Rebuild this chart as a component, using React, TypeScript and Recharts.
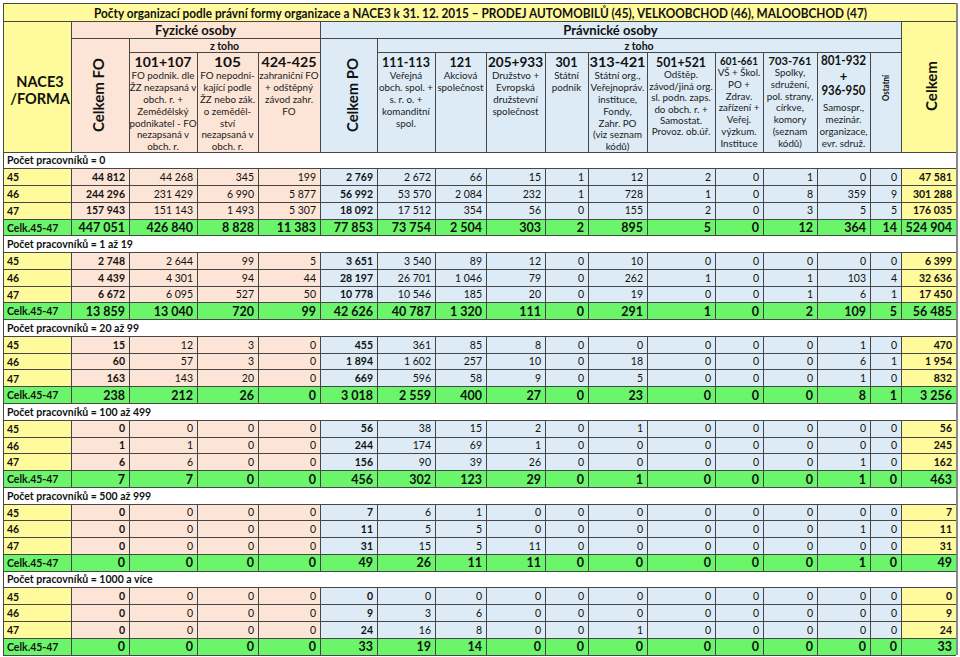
import React from "react";
import { BarChart, Bar, XAxis, YAxis } from "recharts";

// Počty organizací podle právní formy a velikosti (NACE 45–47), tabulka kreslená přes Recharts

const GROUP_LABELS = [
  "Počet pracovníků = 0",
  "Počet pracovníků = 1 až 19",
  "Počet pracovníků = 20 až 99",
  "Počet pracovníků = 100 až 499",
  "Počet pracovníků = 500 až 999",
  "Počet pracovníků = 1000 a více",
];
const ROW_LABELS = ["45", "46", "47", "Celk.45-47"];

// columns: Celkem FO, 101+107, 105, 424-425, Celkem PO, 111-113, 121, 205+933, 301,
// 313-421, 501+521, 601-661, 703-761, 801-932+936-950, Ostatní, Celkem
const workers0 = [
  [44812, 44268, 345, 199, 2769, 2672, 66, 15, 1, 12, 2, 0, 1, 0, 0, 47581],
  [244296, 231429, 6990, 5877, 56992, 53570, 2084, 232, 1, 728, 1, 0, 8, 359, 9, 301288],
  [157943, 151143, 1493, 5307, 18092, 17512, 354, 56, 0, 155, 2, 0, 3, 5, 5, 176035],
  [447051, 426840, 8828, 11383, 77853, 73754, 2504, 303, 2, 895, 5, 0, 12, 364, 14, 524904],
];
const workers1to19 = [
  [2748, 2644, 99, 5, 3651, 3540, 89, 12, 0, 10, 0, 0, 0, 0, 0, 6399],
  [4439, 4301, 94, 44, 28197, 26701, 1046, 79, 0, 262, 1, 0, 1, 103, 4, 32636],
  [6672, 6095, 527, 50, 10778, 10546, 185, 20, 0, 19, 0, 0, 1, 6, 1, 17450],
  [13859, 13040, 720, 99, 42626, 40787, 1320, 111, 0, 291, 1, 0, 2, 109, 5, 56485],
];
const workers20to99 = [
  [15, 12, 3, 0, 455, 361, 85, 8, 0, 0, 0, 0, 0, 1, 0, 470],
  [60, 57, 3, 0, 1894, 1602, 257, 10, 0, 18, 0, 0, 0, 6, 1, 1954],
  [163, 143, 20, 0, 669, 596, 58, 9, 0, 5, 0, 0, 0, 1, 0, 832],
  [238, 212, 26, 0, 3018, 2559, 400, 27, 0, 23, 0, 0, 0, 8, 1, 3256],
];
const workers100to499 = [
  [0, 0, 0, 0, 56, 38, 15, 2, 0, 1, 0, 0, 0, 0, 0, 56],
  [1, 1, 0, 0, 244, 174, 69, 1, 0, 0, 0, 0, 0, 0, 0, 245],
  [6, 6, 0, 0, 156, 90, 39, 26, 0, 0, 0, 0, 0, 1, 0, 162],
  [7, 7, 0, 0, 456, 302, 123, 29, 0, 1, 0, 0, 0, 1, 0, 463],
];
const workers500to999 = [
  [0, 0, 0, 0, 7, 6, 1, 0, 0, 0, 0, 0, 0, 0, 0, 7],
  [0, 0, 0, 0, 11, 5, 5, 0, 0, 0, 0, 0, 0, 1, 0, 11],
  [0, 0, 0, 0, 31, 15, 5, 11, 0, 0, 0, 0, 0, 0, 0, 31],
  [0, 0, 0, 0, 49, 26, 11, 11, 0, 0, 0, 0, 0, 1, 0, 49],
];
const workers1000plus = [
  [0, 0, 0, 0, 0, 0, 0, 0, 0, 0, 0, 0, 0, 0, 0, 0],
  [0, 0, 0, 0, 9, 3, 6, 0, 0, 0, 0, 0, 0, 0, 0, 9],
  [0, 0, 0, 0, 24, 16, 8, 0, 0, 1, 0, 0, 0, 0, 0, 24],
  [0, 0, 0, 0, 33, 19, 14, 0, 0, 0, 0, 0, 0, 0, 0, 33],
];
const GROUP_VALUES = [workers0, workers1to19, workers20to99, workers100to499, workers500to999, workers1000plus];

// layout
const W = 960;
const H = 657;
const LEFT = 3;
const TOP = 152;
const BOTTOM = 655;
const COL_W = [68, 58, 68, 61, 62, 57, 58, 51, 59, 43, 59, 68, 48, 54, 53, 31, 55];
const TOTAL_W = COL_W.reduce((a, b) => a + b, 0);
const EDGES = COL_W.reduce((acc, w) => [...acc, acc[acc.length - 1] + w], [LEFT]);

const FONT = "Lato, 'Open Sans', sans-serif";
const YELLOW = "#FFFA9C";
const PEACH = "#FCE4D6";
const BLUE = "#DCEBF5";
const GREEN = "#6BF56B";
const LINE = "#474747";
const TEXT = "#111";
const BOLD_COLS = new Set([1, 5, 16]);

const fmt = (n: number) => String(n).replace(/\B(?=(\d{3})+(?!\d))/g, " ");

const widthKeys = Object.fromEntries(COL_W.map((w, i) => [`c${i}`, w]));
const rows = GROUP_LABELS.flatMap((label, gi) => [
  { id: `g${gi}`, kind: "group", label, ...widthKeys },
  ...GROUP_VALUES[gi].map((vals, ri) => ({
    id: `g${gi}r${ri}`,
    kind: ri === 3 ? "total" : "row",
    label: ROW_LABELS[ri],
    vals,
    ...widthKeys,
  })),
]);
const BAND_H = (BOTTOM - TOP) / rows.length;

function cellFill(kind: string, ci: number) {
  if (kind === "total") return GREEN;
  if (ci === 0 || ci === 16) return YELLOW;
  return ci <= 4 ? PEACH : BLUE;
}

function renderCell(ci: number) {
  return (props: any) => {
    const { x, y, width, payload } = props;
    const cy = y + BAND_H / 2;
    if (payload.kind === "group") {
      if (ci !== 0) return <g />;
      const full = (width / COL_W[0]) * TOTAL_W;
      return (
        <g>
          <rect x={x} y={y} width={full} height={BAND_H} fill="#fff" stroke={LINE} shapeRendering="crispEdges" />
          <text x={x + 4} y={cy + 3.8} fontFamily={FONT} fontSize={10.5} fontWeight={700} fill={TEXT}>
            {payload.label}
          </text>
        </g>
      );
    }
    const total = payload.kind === "total";
    return (
      <g>
        <rect x={x} y={y} width={width} height={BAND_H} fill={cellFill(payload.kind, ci)} stroke={LINE} shapeRendering="crispEdges" />
        {ci === 0 ? (
          <text x={x + 4} y={cy + 4.2} fontFamily={FONT} fontSize={10.5} fontWeight={700} fill={TEXT}>
            {payload.label}
          </text>
        ) : (
          <text
            x={x + width - 4}
            y={cy + (total ? 4.6 : 3.8)}
            textAnchor="end"
            fontFamily={FONT}
            fontSize={total ? 12.5 : 10.5}
            fontWeight={total || BOLD_COLS.has(ci) ? 700 : 400}
            fill={TEXT}
          >
            {fmt(payload.vals[ci - 1])}
          </text>
        )}
      </g>
    );
  };
}

// header text per code column
const HEAD_COLS = [
  { col: 2, codes: ["101+107"], len: 57, desc: ["FO podnik. dle", "ŽZ nezapsaná v", "obch. r. +", "Zemědělský", "podnikatel - FO", "nezapsaná v", "obch. r."] },
  { col: 3, codes: ["105"], len: 27, desc: ["FO nepodni-", "kající podle", "ŽZ nebo zák.", "o zeměděl-", "ství", "nezapsaná v", "obch. r."] },
  { col: 4, codes: ["424-425"], len: 55, desc: ["zahraniční FO", "+ odštěpný", "závod zahr.", "FO"] },
  { col: 6, codes: ["111-113"], len: 48, desc: ["Veřejná", "obch. spol. +", "s. r. o. +", "komanditní", "spol."] },
  { col: 7, codes: ["121"], len: 22, desc: ["Akciová", "společnost"] },
  { col: 8, codes: ["205+933"], len: 55, desc: ["Družstvo +", "Evropská", "družstevní", "společnost"] },
  { col: 9, codes: ["301"], len: 22, desc: ["Státní", "podnik"] },
  { col: 10, codes: ["313-421"], len: 56, desc: ["Státní org.,", "Veřejnopráv.", "instituce,", "Fondy,", "Zahr. PO", "(viz seznam", "kódů)"] },
  { col: 11, codes: ["501+521"], len: 50, top: 75, step: 11.4, desc: ["Odštěp.", "závod/jiná org.", "sl. podn. zaps.", "do obch. r. +", "Samostat.", "Provoz. ob.úř."] },
  { col: 12, codes: ["601-661"], len: 38, size: 12, codeY: 64.5, top: 72.5, desc: ["VŠ + Škol.", "PO +", "Zdrav.", "zařízení +", "Veřej.", "výzkum.", "Instituce"] },
  { col: 13, codes: ["703-761"], len: 43, size: 12, codeY: 64.5, top: 72.5, desc: ["Spolky,", "sdružení,", "pol. strany,", "církve,", "komory", "(seznam", "kódů)"] },
];

function Header() {
  const rect = (x0: number, x1: number, y0: number, y1: number, fill: string, key: string) => (
    <rect key={key} x={x0} y={y0} width={x1 - x0} height={y1 - y0} fill={fill} stroke={LINE} shapeRendering="crispEdges" />
  );
  const E = EDGES;
  const rot = (x: number, y: number, txt: string, size: number, len: number) => (
    <text
      transform={`translate(${x},${y}) rotate(-90)`}
      textAnchor="middle"
      fontFamily={FONT}
      fontSize={size}
      fontWeight={700}
      fill={TEXT}
      textLength={len}
      lengthAdjust="spacingAndGlyphs"
    >
      {txt}
    </text>
  );
  return (
    <svg width={W} height={TOP + 1} style={{ position: "absolute", left: 0, top: 0 }}>
      {rect(E[0], E[17], 3, 21, YELLOW, "title")}
      {rect(E[0], E[1], 21, 152, YELLOW, "nace")}
      {rect(E[1], E[5], 21, 38, PEACH, "fo")}
      {rect(E[5], E[16], 21, 38, BLUE, "po")}
      {rect(E[16], E[17], 21, 152, YELLOW, "celkem")}
      {rect(E[1], E[2], 38, 152, PEACH, "cfo")}
      {rect(E[2], E[5], 38, 52, PEACH, "ztfo")}
      {rect(E[5], E[6], 38, 152, BLUE, "cpo")}
      {rect(E[6], E[16], 38, 52, BLUE, "ztpo")}
      {[2, 3, 4].map((c) => rect(E[c], E[c + 1], 52, 152, PEACH, `h${c}`))}
      {[6, 7, 8, 9, 10, 11, 12, 13, 14, 15].map((c) => rect(E[c], E[c + 1], 52, 152, BLUE, `h${c}`))}

      <text x={480.5} y={17.5} textAnchor="middle" fontFamily={FONT} fontSize={13} fontWeight={700} fill={TEXT} textLength={773} lengthAdjust="spacingAndGlyphs">
        Počty organizací podle právní formy organizace a NACE3 k 31. 12. 2015 – PRODEJ AUTOMOBILŮ (45), VELKOOBCHOD (46), MALOOBCHOD (47)
      </text>
      <text x={40} y={87} textAnchor="middle" fontFamily={FONT} fontSize={14.5} fontWeight={700} fill={TEXT}>NACE3</text>
      <text x={40} y={104} textAnchor="middle" fontFamily={FONT} fontSize={14.5} fontWeight={700} fill={TEXT}>/FORMA</text>
      <text x={(E[1] + E[5]) / 2} y={34.5} textAnchor="middle" fontFamily={FONT} fontSize={13} fontWeight={700} fill={TEXT}>Fyzické osoby</text>
      <text x={(E[5] + E[16]) / 2} y={34.5} textAnchor="middle" fontFamily={FONT} fontSize={13} fontWeight={700} fill={TEXT}>Právnické osoby</text>
      <text x={(E[2] + E[5]) / 2} y={49.5} textAnchor="middle" fontFamily={FONT} fontSize={10.5} fontWeight={700} fill={TEXT}>z toho</text>
      <text x={(E[6] + E[16]) / 2} y={49.5} textAnchor="middle" fontFamily={FONT} fontSize={10.5} fontWeight={700} fill={TEXT}>z toho</text>

      {rot(104, 95, "Celkem FO", 16, 74)}
      {rot(358, 95, "Celkem PO", 16, 74)}
      {rot(937, 86, "Celkem", 16, 50)}
      {rot(889, 88, "Ostatní", 10, 26)}

      {HEAD_COLS.map((h) => {
        const cx = (E[h.col] + E[h.col + 1]) / 2;
        const top = h.top ?? 76;
        const step = h.step ?? 11.8;
        return (
          <g key={h.col}>
            <text x={cx} y={h.codeY ?? 67} textAnchor="middle" fontFamily={FONT} fontSize={h.size ?? 14} fontWeight={700} fill={TEXT} textLength={h.len} lengthAdjust="spacingAndGlyphs">
              {h.codes[0]}
            </text>
            {h.desc.map((d, i) => (
              <text key={i} x={cx} y={top + 3.4 + i * step} textAnchor="middle" fontFamily={FONT} fontSize={9.8} fill="#222">
                {d}
              </text>
            ))}
          </g>
        );
      })}

      {/* 801-932 + 936-950 */}
      <g>
        <text x={(E[14] + E[15]) / 2} y={64.5} textAnchor="middle" fontFamily={FONT} fontSize={12.5} fontWeight={700} fill={TEXT} textLength={45} lengthAdjust="spacingAndGlyphs">801-932</text>
        <text x={(E[14] + E[15]) / 2} y={80.5} textAnchor="middle" fontFamily={FONT} fontSize={13} fontWeight={700} fill={TEXT}>+</text>
        <text x={(E[14] + E[15]) / 2} y={95} textAnchor="middle" fontFamily={FONT} fontSize={13.5} fontWeight={700} fill={TEXT} textLength={44} lengthAdjust="spacingAndGlyphs">936-950</text>
        {["Samospr.,", "mezinár.", "organizace,", "evr. sdruž."].map((d, i) => (
          <text key={d} x={(E[14] + E[15]) / 2} y={111.4 + i * 11.7} textAnchor="middle" fontFamily={FONT} fontSize={9.8} fill="#222">
            {d}
          </text>
        ))}
      </g>
    </svg>
  );
}

export default function App() {
  return (
    <div style={{ position: "absolute", left: 0, top: 0, width: W, height: H, background: "#fff" }}>
      <div style={{ position: "absolute", left: 0, top: 0 }}>
        <BarChart
          width={W}
          height={H}
          data={rows}
          layout="vertical"
          margin={{ top: TOP, right: W - LEFT - TOTAL_W, bottom: H - BOTTOM, left: LEFT }}
          barCategoryGap={0}
          barGap={0}
        >
          <XAxis type="number" hide domain={[0, TOTAL_W]} allowDataOverflow />
          <YAxis type="category" dataKey="id" hide />
          {COL_W.map((_, ci) => (
            <Bar key={ci} dataKey={`c${ci}`} stackId="cells" isAnimationActive={false} shape={renderCell(ci)} />
          ))}
        </BarChart>
      </div>
      <Header />
      <div style={{ position: "absolute", left: LEFT + TOTAL_W, top: 3, width: 2, height: BOTTOM - 3, background: "#8a8a8a" }} />
    </div>
  );
}
